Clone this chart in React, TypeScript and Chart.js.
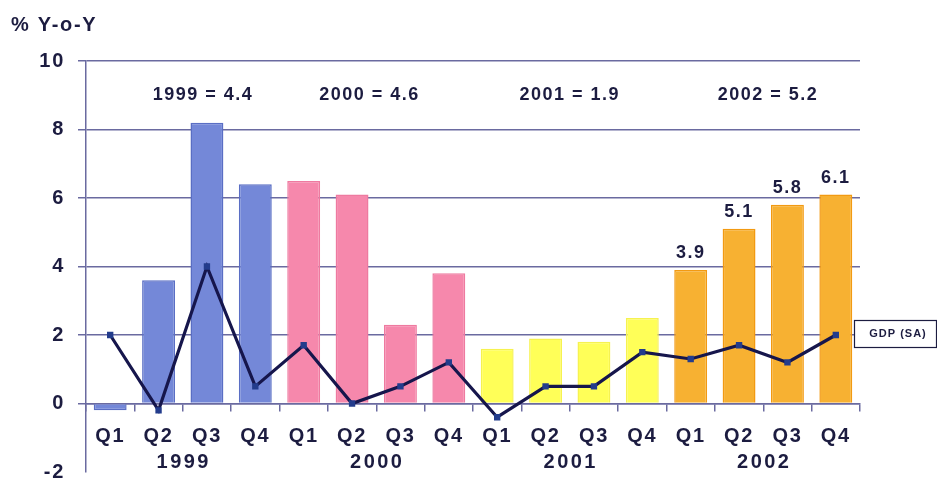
import React, { useEffect, useRef } from 'react';
import { Chart, registerables } from 'chart.js';

Chart.register(...registerables);

const categories = ['Q1', 'Q2', 'Q3', 'Q4', 'Q1', 'Q2', 'Q3', 'Q4', 'Q1', 'Q2', 'Q3', 'Q4', 'Q1', 'Q2', 'Q3', 'Q4'];
const years = ['1999', '2000', '2001', '2002'];
const yearAverages = [4.4, 4.6, 1.9, 5.2];
const barValues = [-0.2, 3.6, 8.2, 6.4, 6.5, 6.1, 2.3, 3.8, 1.6, 1.9, 1.8, 2.5, 3.9, 5.1, 5.8, 6.1];
const gdpSA = [2.0, -0.2, 4.0, 0.5, 1.7, 0.0, 0.5, 1.2, -0.4, 0.5, 0.5, 1.5, 1.3, 1.7, 1.2, 2.0];
const labeledBars = [12, 13, 14, 15];
const yTickValues = [-2, 0, 2, 4, 6, 8, 10];
const seriesName = 'GDP (SA)';
const yAxisTitle = '% Y-o-Y';
const averageLabelLevel = 9.0;

const yearFill = ['#7488d8', '#f688ac', '#ffff58', '#f7b132'];
const yearBorder = ['#5a6ec4', '#ee7aa0', '#f6f250', '#f29a12'];
const TEXT = '#1c1c40';
const GRID = '#6a6aa0';
const FONT = '"Liberation Sans", Arial, sans-serif';
// horizontal nudges of the yearly-average captions, in category widths
const captionShift = [0.42, -0.14, 0, 0.1];

const overlay = {
  id: 'overlay',
  beforeDraw(chart: any) {
    (chart.ctx as any).letterSpacing = '1.7px';
  },
  afterDraw(chart: any) {
    const { ctx } = chart;
    const x = chart.scales.x;
    const y = chart.scales.y;
    const step = x.getPixelForValue(1) - x.getPixelForValue(0);
    ctx.save();
    ctx.fillStyle = TEXT;
    (ctx as any).letterSpacing = '1.7px';
    ctx.font = `bold 20px ${FONT}`;
    ctx.textAlign = 'left';
    ctx.textBaseline = 'middle';
    ctx.fillText(yAxisTitle, 11, 25);
    ctx.textAlign = 'center';
    years.forEach((yr, i) => {
      const cx = (x.getPixelForValue(i * 4 + 1) + x.getPixelForValue(i * 4 + 2)) / 2;
      ctx.font = `bold 18px ${FONT}`;
      (ctx as any).letterSpacing = '1.5px';
      ctx.fillText(`${yr} = ${yearAverages[i].toFixed(1)}`, cx + captionShift[i] * step, y.getPixelForValue(averageLabelLevel));
      ctx.font = `bold 20px ${FONT}`;
      (ctx as any).letterSpacing = '2.5px';
      ctx.fillText(yr, cx + 1, y.getPixelForValue(0) + 59);
    });
    ctx.font = `bold 18px ${FONT}`;
    (ctx as any).letterSpacing = '1.5px';
    ctx.textBaseline = 'alphabetic';
    const meta = chart.getDatasetMeta(1);
    labeledBars.forEach((idx) => {
      const el = meta.data[idx];
      ctx.fillText(barValues[idx].toFixed(1), el.x, el.y - 12);
    });
    ctx.fillStyle = '#ffffff';
    ctx.fillRect(854, 320, 83, 28);
    ctx.strokeStyle = TEXT;
    ctx.lineWidth = 1.2;
    ctx.strokeRect(854.5, 320.5, 82, 27);
    ctx.fillStyle = TEXT;
    ctx.font = `bold 11px ${FONT}`;
    (ctx as any).letterSpacing = '1px';
    ctx.textBaseline = 'middle';
    ctx.fillText(seriesName, 898, 334);
    ctx.restore();
  },
};

export default function App() {
  const ref = useRef<HTMLCanvasElement>(null);
  useEffect(() => {
    if (!ref.current) return;
    const groupOf = (i: number) => Math.floor(i / 4);
    const chart = new Chart(ref.current, {
      data: {
        labels: categories,
        datasets: [
          {
            type: 'line' as const,
            label: seriesName,
            data: gdpSA,
            borderColor: '#16164c',
            backgroundColor: '#233c8c',
            borderWidth: 3.2,
            pointStyle: 'rect',
            pointRadius: 4.5,
            pointBorderWidth: 0,
            tension: 0,
            order: 0,
          },
          {
            type: 'bar' as const,
            label: 'Bars',
            data: barValues,
            backgroundColor: barValues.map((_, i) => yearFill[groupOf(i)]),
            borderColor: barValues.map((_, i) => yearBorder[groupOf(i)]),
            borderWidth: 1.5,
            categoryPercentage: 1,
            barPercentage: 0.68,
            order: 1,
          },
        ],
      },
      options: {
        animation: false,
        responsive: true,
        maintainAspectRatio: false,
        layout: { padding: { top: 61, right: 77, bottom: 8, left: 0 } },
        plugins: { legend: { display: false }, tooltip: { enabled: false } },
        scales: {
          x: {
            type: 'category',
            position: { y: 0 } as any,
            afterFit: (s: any) => { s.height = 0; s.paddingLeft = 0; s.paddingRight = 0; },
            grid: { offset: true, drawOnChartArea: false, drawTicks: true, tickLength: 7, color: GRID, lineWidth: 1.5 },
            border: { display: true, color: GRID, width: 1.5 },
            ticks: { color: TEXT, font: { family: FONT, size: 20, weight: 'bold' }, padding: 14, maxRotation: 0, autoSkip: false },
          },
          y: {
            min: -2,
            max: 10,
            afterFit: (s: any) => { s.width = 86; s.paddingTop = 0; s.paddingBottom = 0; },
            afterBuildTicks: (s: any) => { s.ticks = yTickValues.map((v) => ({ value: v })); },
            grid: {
              color: (c: any) => (c.tick && c.tick.value === -2 ? 'rgba(0,0,0,0)' : GRID),
              lineWidth: 1.5,
              tickLength: 8,
            },
            border: { display: true, color: GRID, width: 1.5 },
            ticks: { color: TEXT, font: { family: FONT, size: 20, weight: 'bold' }, padding: 13 },
          },
        },
      },
      plugins: [overlay],
    } as any);
    return () => chart.destroy();
  }, []);
  return (
    <div style={{ position: 'fixed', left: 0, top: 0, width: 937, height: 480, background: '#fff' }}>
      <canvas ref={ref} />
    </div>
  );
}
